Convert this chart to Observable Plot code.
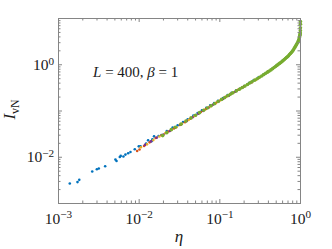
<!DOCTYPE html>
<html><head><meta charset="utf-8">
<script src="https://cdn.jsdelivr.net/npm/d3@7"></script>
<script src="https://cdn.jsdelivr.net/npm/@observablehq/plot@0.6"></script>
<style>body{margin:0;background:#fff} svg{display:block}</style>
</head><body><div id="chart"></div>
<script>
// ---- data ----
const blueX = [0.00138,0.00172,0.00181,0.00262,0.00299,0.00316,0.00379,0.00508,0.00524,0.00575,0.00591,0.00638,0.00676,0.00731,0.0078,0.00882,0.0099,0.0104,0.0122,0.0129,0.0142,0.0146,0.0153,0.0174,0.0189,
  0.022,0.026,0.03,0.035,0.04,0.047,0.053,0.06,0.068,0.076,0.085,0.095,0.11,0.125,0.14,0.16,0.18,0.2,0.23,0.26,0.3,0.35,0.4,0.45,0.5,0.6,0.7,0.8,0.9,0.95,0.99];
const blueY = [0.0027,0.0029,0.00325,0.00493,0.00552,0.00571,0.0064,0.0089,0.0083,0.0101,0.0107,0.0104,0.0114,0.0122,0.013,0.0149,0.0172,0.0172,0.0197,0.0232,0.0221,0.0244,0.0283,0.0287,0.0302,
  0.037,0.044,0.049,0.058,0.066,0.08,0.09,0.103,0.117,0.132,0.148,0.166,0.19,0.22,0.246,0.28,0.31,0.345,0.40,0.455,0.53,0.625,0.72,0.83,0.95,1.22,1.53,2.0,2.8,3.4,4.7];
const orangeX = [0.00944,0.0101,0.0115,0.0135,0.016,0.019,0.023,0.027,0.032,0.037,0.043,0.05,0.058,0.067,0.078,0.09,0.105,0.12,0.14,0.17,0.2,0.25,0.3,0.4];
const orangeY = [0.0137,0.0147,0.0175,0.021,0.026,0.03,0.036,0.042,0.05,0.057,0.068,0.08,0.095,0.11,0.128,0.15,0.175,0.205,0.24,0.29,0.34,0.42,0.51,0.72];
const yellowX = [0.0105,0.0125,0.015,0.0178,0.021,0.025,0.029,0.034,0.041,0.048,0.055,0.064,0.074,0.088,0.1,0.115,0.13,0.15,0.18,0.22,0.28];
const yellowY = [0.0165,0.019,0.0235,0.028,0.033,0.039,0.0445,0.053,0.064,0.077,0.089,0.105,0.121,0.145,0.168,0.193,0.22,0.255,0.305,0.37,0.47];
const purpleX = [0.0118,0.014,0.0165,0.02,0.024,0.028,0.033,0.039,0.046,0.054,0.062,0.072,0.082,0.097,0.11,0.13,0.155,0.19,0.24];
const purpleY = [0.0185,0.022,0.0265,0.031,0.037,0.0435,0.051,0.061,0.073,0.087,0.1,0.118,0.136,0.16,0.183,0.215,0.26,0.32,0.41];
const greenX = [0.0196,0.022,0.025,0.028,0.033,0.038,0.044,0.05,0.056,0.063,0.07,0.078,0.086,0.095,0.105,0.115,0.125,0.135,0.145,0.16,0.175,0.19,0.205,0.22,0.235,0.25,0.27,0.29,0.31,0.33,0.35,0.37,0.39,0.41,0.43,0.45,0.47,0.49,0.51,0.53,0.55,0.57,0.59,0.61,0.63,0.65,0.67,0.69,0.71,0.73,0.75,0.77,0.79,0.81,0.83,0.85,0.87,0.89,0.91,0.93,0.95,0.96,0.97,0.98,0.985,0.99,0.993,0.996,0.998,0.999,0.9995];
const greenY = [0.0294,0.034,0.0395,0.0445,0.052,0.0605,0.071,0.081,0.092,0.104,0.116,0.130,0.144,0.160,0.178,0.195,0.213,0.231,0.247,0.272,0.296,0.322,0.348,0.374,0.402,0.428,0.464,0.499,0.535,0.573,0.612,0.651,0.691,0.732,0.774,0.822,0.869,0.918,0.968,1.02,1.07,1.12,1.18,1.24,1.30,1.36,1.43,1.49,1.57,1.66,1.75,1.83,1.93,2.06,2.21,2.37,2.53,2.70,2.92,3.15,3.39,3.6,3.9,4.24,4.4,4.6,4.9,5.5,6.3,7.5,8.6];

const xTickLabels = [1e-3, 1e-2, 1e-1, 1];
const yTickLabels = [1e-2, 1];
const yMajorTicks = [1e-3, 1e-2, 1e-1, 1, 10];
const annotationX = 0.00272, annotationY = 0.53;

// ---- styling ----
const colors = ["#0072BD", "#D95319", "#EDB120", "#7E2F8E", "#77AC30"];
const series = [[blueX, blueY], [orangeX, orangeY], [yellowX, yellowY], [purpleX, purpleY], [greenX, greenY]];
const axisColor = "#858585";
const font = "'Liberation Serif', 'DejaVu Serif', serif";

const minor = (lo, hi) => { const out = []; for (let e = lo; e < hi; e++) for (let k = 2; k <= 9; k++) out.push(k * Math.pow(10, e)); return out; };
const xMinor = minor(-3, 0), yMinor = minor(-3, 1);
const W = 332, H = 249, mt = 18, mr = 32, mb = 46, ml = 58;
const ih = H - mt - mb, iw = W - ml - mr;

const fig = Plot.plot({
  width: W, height: H, marginTop: mt, marginRight: mr, marginBottom: mb, marginLeft: ml,
  style: {fontFamily: font, fontSize: "15.5px", color: "#1a1a1a", background: "#fff"},
  x: {type: "log", domain: [1e-3, 1]},
  y: {type: "log", domain: [1e-3, 10]},
  marks: [
    ...series.map(([xs, ys], i) => Plot.dot(xs.map((x, j) => ({x, y: ys[j]})), {x: "x", y: "y", r: i === 4 ? 1.8 : 1.3, fill: colors[i], stroke: "none"})),
    Plot.frame({stroke: axisColor}),
    Plot.tickX(xTickLabels, {x: d => d, insetTop: ih - 4, stroke: axisColor}),
    Plot.tickX(xTickLabels, {x: d => d, insetBottom: ih - 4, stroke: axisColor}),
    Plot.tickX(xMinor, {x: d => d, insetTop: ih - 2.5, stroke: axisColor}),
    Plot.tickX(xMinor, {x: d => d, insetBottom: ih - 2.5, stroke: axisColor}),
    Plot.tickY(yMajorTicks, {y: d => d, insetRight: iw - 4, stroke: axisColor}),
    Plot.tickY(yMajorTicks, {y: d => d, insetLeft: iw - 4, stroke: axisColor}),
    Plot.tickY(yMinor, {y: d => d, insetRight: iw - 2.5, stroke: axisColor}),
    Plot.tickY(yMinor, {y: d => d, insetLeft: iw - 2.5, stroke: axisColor}),
    Plot.axisX(xTickLabels, {tickSize: 0, tickPadding: 9, label: null, tickFormat: d => String(Math.round(Math.log10(d)))}),
    Plot.axisY(yTickLabels, {tickSize: 0, tickPadding: 4.5, label: null, tickFormat: d => String(Math.round(Math.log10(d)))})
  ]
});

const svg = d3.select(fig);
svg.selectAll('g[aria-label="x-axis tick label"] text, g[aria-label="y-axis tick label"] text').each(function () {
  const e = this.textContent.replace("-", "−");
  const t = d3.select(this);
  t.text("10");
  t.append("tspan").attr("dy", "-0.45em").attr("font-size", "0.72em").text(e);
});

const sx = fig.scale("x"), sy = fig.scale("y");
// annotation
const ann = svg.append("text").attr("x", sx.apply(annotationX)).attr("y", sy.apply(annotationY))
  .attr("text-anchor", "start")
  .attr("font-family", font).attr("font-size", "15px").attr("fill", "#1a1a1a");
ann.append("tspan").attr("font-style", "italic").text("L");
ann.append("tspan").text(" = 400, ");
ann.append("tspan").attr("font-style", "italic").text("β");
ann.append("tspan").text(" = 1");

// x label
svg.append("text").attr("x", ml + iw / 2).attr("y", 242).attr("text-anchor", "middle")
  .attr("font-family", font).attr("font-size", "17px").attr("font-style", "italic").attr("fill", "#1a1a1a").text("η");
// y label
const yl = svg.append("text").attr("transform", "translate(15,109.5) rotate(-90)").attr("text-anchor", "middle")
  .attr("font-family", font).attr("font-size", "17px").attr("fill", "#1a1a1a");
yl.append("tspan").attr("font-style", "italic").text("I");
yl.append("tspan").attr("font-size", "0.7em").attr("dy", "0.3em").text("vN");

document.getElementById("chart").appendChild(fig);
</script>
</body></html>
